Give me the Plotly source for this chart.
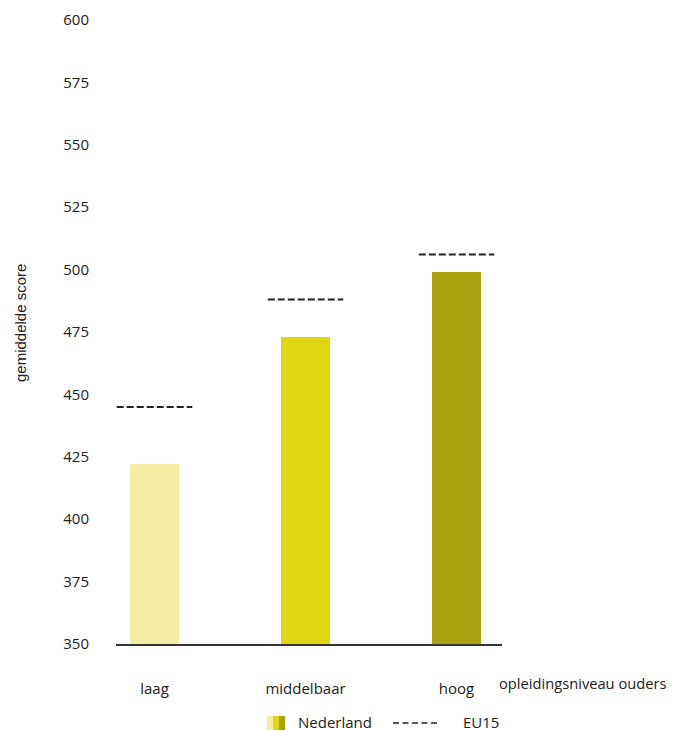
import plotly.graph_objects as go

categories = ["laag", "middelbaar", "hoog"]
nederland = [422, 473, 499]
eu15 = [445, 488, 506]
bar_colors = ["#f3eda4", "#dfd614", "#aba211"]
y_ticks = [350, 375, 400, 425, 450, 475, 500, 525, 550, 575, 600]

# page offset (default body margin in the html page)
OFF = 8
W, H = 676 - OFF, 732 - OFF
L, T, PW, PH = 116 - OFF, 20 - OFF, 386, 624
R = W - L - PW
B = H - T - PH

xs = list(range(len(categories)))
fig = go.Figure()
fig.add_trace(go.Bar(x=xs, y=nederland, width=0.325, marker=dict(color=bar_colors, line=dict(width=0)),
                     name="Nederland", showlegend=False))
lx, ly = [], []
for i, v in zip(xs, eu15):
    lx += [i - 0.25, i + 0.25, None]
    ly += [v, v, None]
fig.add_trace(go.Scatter(x=lx, y=ly, mode="lines", line=dict(color="#222222", width=2, dash="7px,3px"),
                         name="EU15", showlegend=False))

font_main = "'Open Sans', Lato, sans-serif"
fig.update_layout(
    width=W, height=H,
    margin=dict(l=L, r=R, t=T, b=B, autoexpand=False),
    plot_bgcolor="white", paper_bgcolor="white",
    font=dict(family=font_main, size=15, color="#222222"),
    bargap=0,
    xaxis=dict(range=[-0.255, 2.301], tickvals=xs, ticktext=categories, showgrid=False, zeroline=False,
               showline=True, linecolor="#333333", linewidth=1.5, ticks="", ticklabelstandoff=30,
               tickfont=dict(size=15), automargin=False),
    yaxis=dict(range=[350, 600], tickvals=y_ticks, showgrid=False, zeroline=False, showline=False,
               ticks="", ticklabelstandoff=26, tickfont=dict(size=15), automargin=False),
)

# helpers: page pixel -> paper coords
def px(x):
    return (x - 116) / PW
def py(y):
    return (644 - y) / PH

annotations = [
    dict(text="opleidingsniveau ouders", x=px(497), y=py(683), xref="paper", yref="paper", showarrow=False,
         xanchor="left", yanchor="middle", font=dict(size=14.7)),
    dict(text="gemiddelde score", x=px(20), y=py(323), xref="paper", yref="paper", showarrow=False,
         textangle=-90, xanchor="center", yanchor="middle",
         font=dict(family="'Liberation Sans', Arial", size=15)),
    dict(text="Nederland", x=px(297), y=py(722), xref="paper", yref="paper", showarrow=False,
         xanchor="left", yanchor="middle", borderpad=0, font=dict(size=15)),
    dict(text="EU15", x=px(462), y=py(722), xref="paper", yref="paper", showarrow=False,
         xanchor="left", yanchor="middle", borderpad=0, font=dict(size=15)),
]

shapes = []
for k, c in enumerate(bar_colors):
    x0 = 267 + k * 6
    shapes.append(dict(type="rect", xref="paper", yref="paper", x0=px(x0), x1=px(x0 + 6),
                       y0=py(730), y1=py(716), fillcolor=c, line=dict(width=0)))
shapes.append(dict(type="line", xref="paper", yref="paper", x0=px(393), x1=px(438), y0=py(723), y1=py(723),
                   line=dict(color="#222222", width=1.5, dash="6px,3.5px")))
fig.update_layout(shapes=shapes, annotations=annotations)

fig.write_html("out.html")
